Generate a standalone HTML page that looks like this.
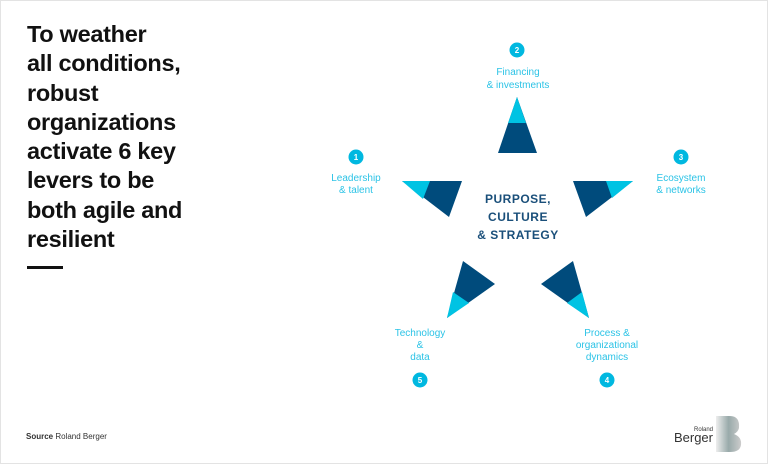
<!DOCTYPE html>
<html><head><style>
html,body{margin:0;padding:0;}
body{width:768px;height:464px;position:relative;background:#fff;font-family:"Liberation Sans",sans-serif;overflow:hidden;}
.frame{position:absolute;left:0;top:0;width:766px;height:462px;border:1px solid #e3e3e3;}
.title{position:absolute;left:27px;top:20px;font-size:23.5px;font-weight:bold;line-height:29.3px;color:#111;letter-spacing:-0.3px;}
.bar{position:absolute;left:27px;top:266px;width:36px;height:3px;background:#111;}
.src{position:absolute;left:26px;top:432px;font-size:8px;color:#333;}
</style></head><body>
<div class="frame"></div>
<div class="title">To weather<br>all conditions,<br>robust<br>organizations<br>activate 6 key<br>levers to be<br>both agile and<br>resilient</div>
<div class="bar"></div>
<div class="src"><b>Source</b> Roland Berger</div>
<svg width="768" height="464" style="position:absolute;left:0;top:0" font-family="Liberation Sans, sans-serif">
<g fill="#004b7c">
<polygon points="517,97 498,153 537,153"/>
<polygon points="402,181 462,181 449,217"/>
<polygon points="573,181 633,181 586,217"/>
<polygon points="463,261 495,284 447,318"/>
<polygon points="573,261 541,284 589,318"/>
</g>
<g fill="#00c3e3">
<polygon points="517,97 508,123 526,123"/>
<polygon points="402,181 430,181 423,199"/>
<polygon points="606,181 633,181 612,198"/>
<polygon points="453,292 469,303 447,318"/>
<polygon points="582,292 567,303 589,318"/>
</g>
<g fill="#00b8e0">
<circle cx="517" cy="50" r="7.5"/><circle cx="356" cy="157" r="7.5"/><circle cx="681" cy="157" r="7.5"/><circle cx="607" cy="380" r="7.5"/><circle cx="420" cy="380" r="7.5"/>
</g>
<g fill="#fff" font-size="8" font-weight="bold" text-anchor="middle">
<text x="517" y="53">2</text><text x="356" y="160">1</text><text x="681" y="160">3</text><text x="607" y="383">4</text><text x="420" y="383">5</text>
</g>
<g fill="#2bc3e6" font-size="10" text-anchor="middle">
<text x="518" y="75">Financing</text><text x="518" y="88">&amp; investments</text>
<text x="356" y="181">Leadership</text><text x="356" y="193">&amp; talent</text>
<text x="681" y="181">Ecosystem</text><text x="681" y="193">&amp; networks</text>
<text x="420" y="336">Technology</text><text x="420" y="348">&amp;</text><text x="420" y="360">data</text>
<text x="607" y="336">Process &amp;</text><text x="607" y="348">organizational</text><text x="607" y="360">dynamics</text>
</g>
<g fill="#1a4f7a" font-size="12" font-weight="bold" text-anchor="middle" letter-spacing="0.5">
<text x="518" y="203">PURPOSE,</text><text x="518" y="221">CULTURE</text><text x="518" y="239">&amp; STRATEGY</text>
</g>
<text x="713" y="431" font-size="6" fill="#333" text-anchor="end">Roland</text>
<text x="713" y="442" font-size="13" fill="#333" text-anchor="end">Berger</text>
<defs><linearGradient id="g" x1="0" x2="1"><stop offset="0" stop-color="#eee"/><stop offset="0.5" stop-color="#9aa"/><stop offset="1" stop-color="#ccc"/></linearGradient></defs>
<path d="M716,416 L730,416 Q740,416 739,428 Q738,432 734,434 Q742,437 741,445 Q740,452 730,452 L716,452 Z" fill="url(#g)"/>
</svg>
</body></html>
